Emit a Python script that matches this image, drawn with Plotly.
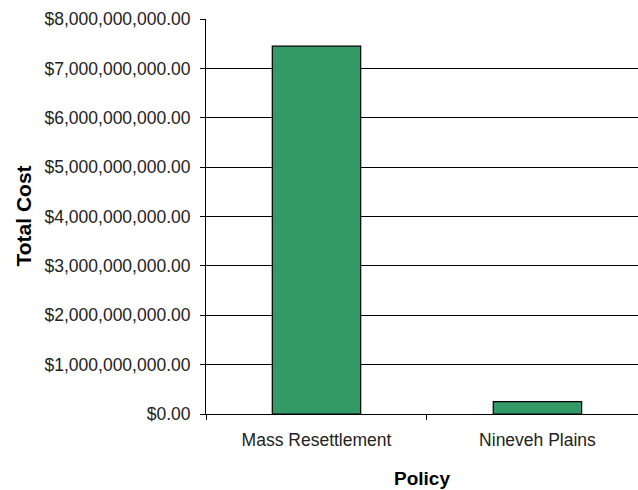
import plotly.graph_objects as go

policies = ["Mass Resettlement", "Nineveh Plains"]
total_cost = [7.45e9, 0.25e9]
y_ticks = [0, 1e9, 2e9, 3e9, 4e9, 5e9, 6e9, 7e9, 8e9]

fig = go.Figure()
fig.add_trace(go.Bar(
    x=policies, y=total_cost,
    marker=dict(color="#339966", line=dict(color="black", width=1.2)),
    width=0.4,
))

fig.update_layout(
    width=638, height=490,
    margin=dict(l=206, r=0, t=19, b=76),
    paper_bgcolor="white", plot_bgcolor="white",
    font=dict(family="Liberation Sans, Arial, sans-serif", color="black"),
    showlegend=False,
    bargap=0.6,
)
fig.update_xaxes(
    type="category",
    range=[-0.5, 1.455],
    showline=True, linecolor="black", linewidth=1,
    ticks="outside", tickson="boundaries", ticklen=5, tickcolor="black",
    tickfont=dict(size=17.5, color="#222222"),
    ticklabelstandoff=10,
    showgrid=False,
)
fig.update_yaxes(
    range=[0, 8e9],
    tickvals=y_ticks,
    tickformat="$,.2f",
    showline=True, linecolor="black", linewidth=1,
    ticks="outside", ticklen=5, tickcolor="black",
    tickfont=dict(size=17.5, color="#222222"),
    ticklabelstandoff=6,
    showgrid=True, gridcolor="black", gridwidth=1,
    zeroline=True, zerolinecolor="black", zerolinewidth=1,
)
fig.add_annotation(
    text="<b>Policy</b>", xref="paper", yref="paper",
    x=0.5, y=0, yshift=-64, xanchor="center", yanchor="middle",
    showarrow=False, font=dict(size=19, color="black"),
)
fig.add_annotation(
    text="<b>Total Cost</b>", xref="paper", yref="paper",
    x=0, xshift=-183, y=0.5, xanchor="center", yanchor="middle",
    textangle=-90, showarrow=False, font=dict(size=21, color="black"),
)

fig.write_html("out.html")
